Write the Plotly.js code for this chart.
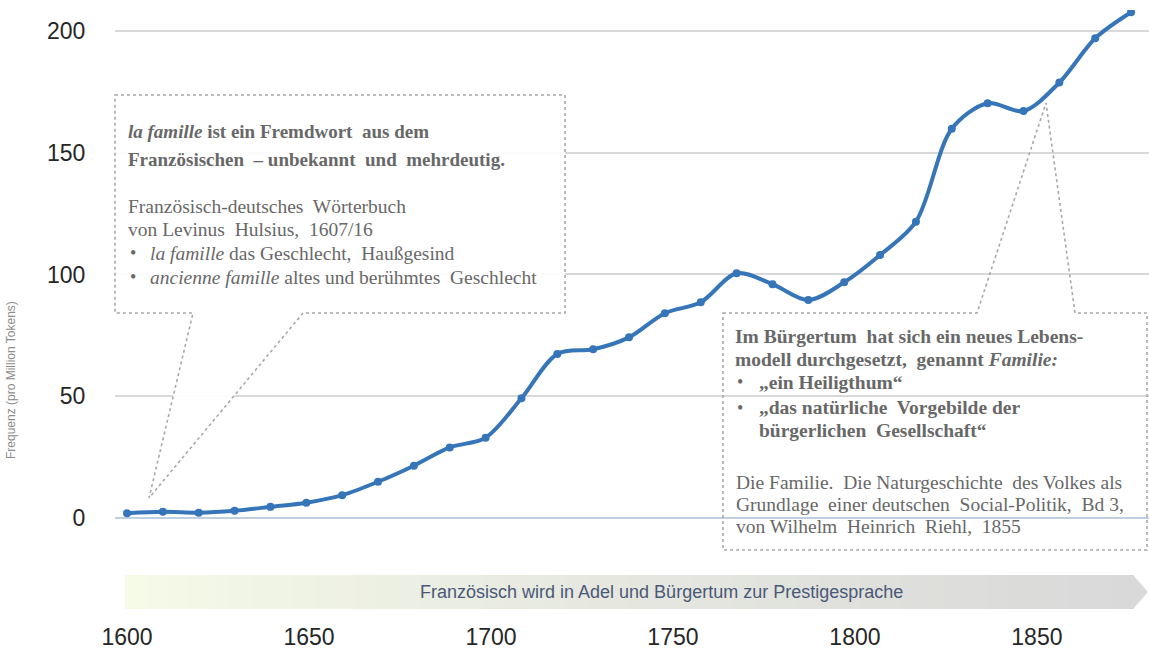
<!DOCTYPE html>
<html>
<head>
<meta charset="utf-8">
<script src="https://cdn.plot.ly/plotly-3.0.1.min.js"></script>
<style>html,body{margin:0;padding:0;background:#fff;}#chart{width:1149px;height:650px;}</style>
</head>
<body>
<div id="chart"></div>
<script>
// ---- data ----
var years = [1600,1610,1620,1630,1640,1650,1660,1670,1680,1690,1700,1710,1720,1730,1740,1750,1760,1770,1780,1790,1800,1810,1820,1830,1840,1850,1860,1870,1880];
var freq  = [2.0,2.6,2.2,3.0,4.6,6.3,9.4,14.9,21.5,29.0,33.0,49.2,67.4,69.3,74.2,84.1,88.6,100.5,96.0,89.5,96.8,108.0,121.7,159.8,170.3,167.1,178.8,197.0,207.7];
var yTicks = [0,50,100,150,200];
var xTickVals = [1600,1650,1700,1750,1800,1850];
var xTickText = ['1600','1650','1700','1750','1800','1850'];
var yTitle = 'Frequenz (pro Million Tokens)';
var bandText = 'Französisch wird in Adel und Bürgertum zur Prestigesprache';
var leftBoxLines = [
  '<b><i>la famille</i> ist ein Fremdwort  aus dem</b>',
  '<b>Französischen  – unbekannt  und  mehrdeutig.</b>',
  'Französisch-deutsches  Wörterbuch',
  'von Levinus  Hulsius,  1607/16'
];
var leftBullets = [
  '<i>la famille</i> das Geschlecht,  Haußgesind',
  '<i>ancienne famille</i> altes und berühmtes  Geschlecht'
];
var rightBoxLines = [
  '<b>Im Bürgertum  hat sich ein neues Lebens-</b>',
  '<b>modell durchgesetzt,  genannt <i>Familie:</i></b>'
];
var rightBullets = [
  '<b>„ein Heiligthum“</b>',
  '<b>„das natürliche  Vorgebilde der</b>'
];
var rightCont = '<b>bürgerlichen  Gesellschaft“</b>';
var rightSource = [
  'Die Familie.  Die Naturgeschichte  des Volkes als',
  'Grundlage  einer deutschen  Social-Politik,  Bd 3,',
  'von Wilhelm  Heinrich  Riehl,  1855'
];

// ---- layout geometry (pixels) ----
var W = 1149, H = 650, ML = 115, MR = 0, MT = 10, MB = 36;
var PW = W - ML - MR, PH = H - MT - MB;
function px(x){ return (x - ML) / PW; }
function py(y){ return (H - MB - y) / PH; }

var annotations = [];
var shapes = [];
var serif = 'Liberation Serif, Times New Roman, serif';
var txtCol = '#686868';
function addText(t, x, y, size, opts){
  opts = opts || {};
  annotations.push({
    xref:'paper', yref:'paper', x:px(x), y:py(y), xanchor: opts.xanchor || 'left', yanchor:'middle',
    text:t, showarrow:false, textangle: opts.angle || 0,
    font:{family: opts.family || serif, size:size, color: opts.color || txtCol}
  });
}

// left box text
addText(leftBoxLines[0], 126, 131, 19);
addText(leftBoxLines[1], 126, 159, 19);
addText(leftBoxLines[2], 126, 207, 19.5);
addText(leftBoxLines[3], 126, 230, 19.5);
addText('•', 128, 253, 18);
addText(leftBullets[0], 148, 253, 19.5);
addText('•', 128, 277, 18);
addText(leftBullets[1], 148, 277, 19.5);

// right box text
addText(rightBoxLines[0], 733, 337, 19.5);
addText(rightBoxLines[1], 733, 359, 19.5);
addText('•', 735, 382, 18);
addText(rightBullets[0], 757, 382, 19.5);
addText('•', 735, 408, 18);
addText(rightBullets[1], 757, 408, 19.5);
addText(rightCont, 757, 430, 19.5);
addText(rightSource[0], 734, 482, 19.5);
addText(rightSource[1], 734, 504, 19.5);
addText(rightSource[2], 734, 526, 19.5);

// y axis title
addText(yTitle, 11, 380, 12, {xanchor:'center', angle:-90, family:'Liberation Sans, Arial, sans-serif', color:'#8c8c8c'});

// band text
addText(bandText, 661, 592, 18, {xanchor:'center', family:'Liberation Sans, Arial, sans-serif', color:'#4a5878'});

// callout boxes
function pathOf(pts){
  return 'M ' + pts.map(function(p){ return px(p[0]).toFixed(5) + ',' + py(p[1]).toFixed(5); }).join(' L ') + ' Z';
}
shapes.push({type:'path', xref:'paper', yref:'paper', layer:'above',
  path: pathOf([[115,95],[565,95],[565,313],[303,313],[149,498],[193,313],[115,313]]),
  fillcolor:'rgba(255,255,255,0.9)', line:{color:'#a8a8a8', width:1.6, dash:'dot'}});
shapes.push({type:'path', xref:'paper', yref:'paper', layer:'above',
  path: pathOf([[723,313],[977,313],[1046,103],[1075,313],[1147,313],[1147,550],[723,550]]),
  fillcolor:'rgba(255,255,255,0)', line:{color:'#a8a8a8', width:1.6, dash:'dot'}});

// gradient arrow band
var c0 = [246,251,232], c1 = [217,217,217];
var bx0 = 125, bx1 = 1133, tip = 1148, btop = 575, bbot = 609, steps = 48;
for (var i = 0; i < steps; i++){
  var f = i / (steps - 1);
  var c = c0.map(function(v, k){ return Math.round(v + (c1[k] - v) * Math.pow(f, 0.8)); });
  var xa = bx0 + (bx1 - bx0) * i / steps, xb = bx0 + (bx1 - bx0) * (i + 1) / steps + 0.6;
  shapes.push({type:'rect', xref:'paper', yref:'paper', layer:'below',
    x0:px(xa), x1:px(xb), y0:py(bbot), y1:py(btop),
    fillcolor:'rgb(' + c.join(',') + ')', line:{width:0}});
}
shapes.push({type:'path', xref:'paper', yref:'paper', layer:'below',
  path: pathOf([[bx1,btop],[tip,(btop+bbot)/2],[bx1,bbot]]),
  fillcolor:'rgb(' + c1.join(',') + ')', line:{width:0}});

var trace = {
  x: years, y: freq, type:'scatter', mode:'lines+markers',
  line:{color:'#3675b8', width:4, shape:'spline', smoothing:0.9},
  marker:{color:'#3675b8', size:8},
  hoverinfo:'x+y', showlegend:false
};
// carrier for the tick-label axis (draws nothing)
var tickCarrier = {
  x: xTickVals, y: xTickVals.map(function(){ return null; }), xaxis:'x2', yaxis:'y',
  type:'scatter', mode:'markers', marker:{opacity:0}, hoverinfo:'skip', showlegend:false
};

var layout = {
  width:W, height:H,
  margin:{l:ML, r:MR, t:MT, b:MB, pad:0},
  paper_bgcolor:'#ffffff', plot_bgcolor:'rgba(0,0,0,0)',
  xaxis:{range:[1596.65, 1885], showgrid:false, zeroline:false, showline:false, showticklabels:false, ticks:''},
  xaxis2:{overlaying:'x', anchor:'y', side:'bottom', range:[1596.7, 1880.8],
    tickmode:'array', tickvals:xTickVals, ticktext:xTickText,
    showgrid:false, zeroline:false, showline:false, ticks:'outside', ticklen:2, tickcolor:'rgba(0,0,0,0)',
    tickfont:{family:'Liberation Sans, Arial, sans-serif', size:23, color:'#262626'}},
  yaxis:{range:[-39.4, 208.6], tickmode:'array', tickvals:yTicks,
    showgrid:true, gridcolor:'#d9d9d9', gridwidth:2,
    zeroline:true, zerolinecolor:'#bfcfe0', zerolinewidth:2, showline:false,
    ticks:'outside', ticklen:24, tickcolor:'rgba(0,0,0,0)',
    tickfont:{family:'Liberation Sans, Arial, sans-serif', size:23, color:'#262626'}},
  annotations: annotations,
  shapes: shapes
};

Plotly.newPlot('chart', [trace, tickCarrier], layout, {displayModeBar:false, staticPlot:true});
</script>
</body>
</html>
